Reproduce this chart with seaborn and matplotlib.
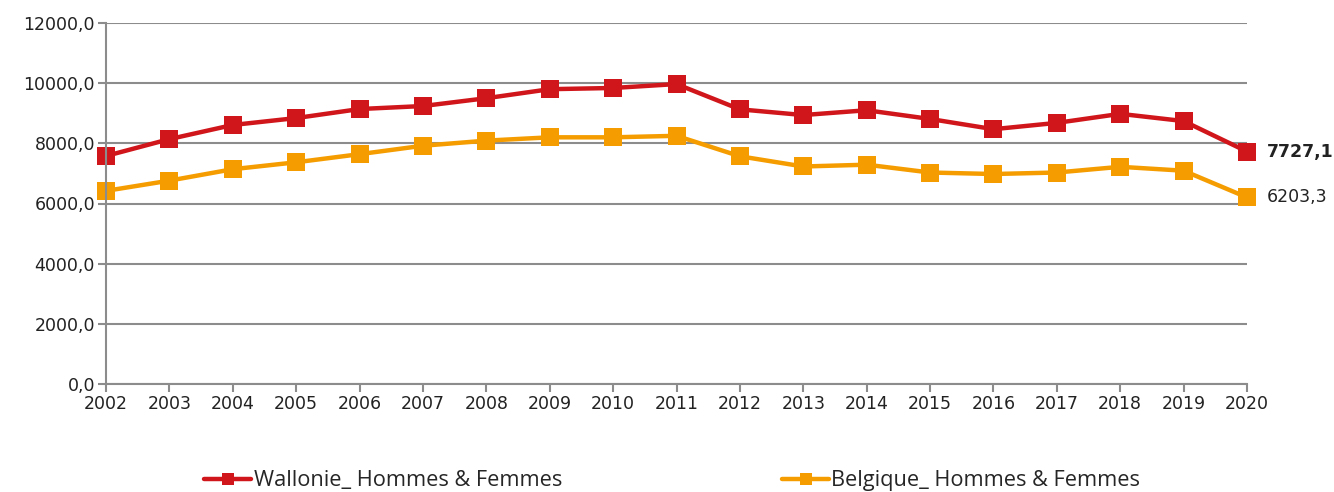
import matplotlib
matplotlib.use("Agg")
import matplotlib.pyplot as plt
import seaborn as sns
import pandas as pd
from matplotlib.ticker import FuncFormatter, FixedLocator
from matplotlib.lines import Line2D

years = list(range(2002, 2021))
wallonie = [7580, 8140, 8610, 8840, 9140, 9240, 9500, 9800, 9840, 9970,
            9130, 8940, 9100, 8810, 8470, 8680, 8980, 8740, 7727.1]
belgique = [6420, 6760, 7140, 7370, 7640, 7920, 8090, 8200, 8200, 8250,
            7570, 7230, 7290, 7030, 6980, 7030, 7220, 7090, 6203.3]
series_names = ["Wallonie_ Hommes & Femmes", "Belgique_ Hommes & Femmes"]
colors = ["#d0161b", "#f59d00"]
yticks = [0, 2000, 4000, 6000, 8000, 10000, 12000]

df = pd.DataFrame({
    "Année": years * 2,
    "Valeur": wallonie + belgique,
    "Série": [series_names[0]] * len(years) + [series_names[1]] * len(years),
})

sns.set_theme(style="white")
plt.rcParams['font.family'] = ['DejaVu Sans']

fig = plt.figure(figsize=(13.34, 4.92), dpi=100)
ax = fig.add_axes([106/1334, 1-384/492, (1247-106)/1334, (384-23)/492])

sns.lineplot(data=df, x="Année", y="Valeur", hue="Série", palette=colors,
             style="Série", markers=["s", "s"], dashes=False, linewidth=3.2,
             markersize=12.5, markeredgewidth=0, ax=ax, legend=False)

ax.set_xlim(2002, 2020)
ax.set_ylim(0, 12000)
ax.yaxis.set_major_locator(FixedLocator(yticks))
ax.xaxis.set_major_locator(FixedLocator(years))
ax.yaxis.set_major_formatter(FuncFormatter(lambda v, p: f"{v:.1f}".replace(".", ",")))
ax.set_xlabel("")
ax.set_ylabel("")
ax.grid(axis="y", color="#8c8c8c", linewidth=1.5)
ax.set_axisbelow(True)
for s in ["top", "right"]:
    ax.spines[s].set_visible(False)
for s in ["left", "bottom"]:
    ax.spines[s].set_color("#8c8c8c")
    ax.spines[s].set_linewidth(1.5)
ax.tick_params(axis="both", which="major", direction="out", length=6, width=1.5,
               color="#8c8c8c", labelsize=12.5, labelcolor="#222222", pad=2,
               left=True, bottom=True)
for l in ax.lines:
    l.set_clip_on(False)

ax.annotate("7727,1", xy=(2020, wallonie[-1]), xytext=(14, 0), textcoords="offset points",
            va="center", ha="left", fontsize=12.5, fontweight="bold", color="#222222")
ax.annotate("6203,3", xy=(2020, belgique[-1]), xytext=(14, 0), textcoords="offset points",
            va="center", ha="left", fontsize=12.5, color="#222222")

handles = [Line2D([0], [0], color=c, lw=3.2, marker="s", markersize=9, markeredgewidth=0)
           for c in colors]
fig.legend(handles, series_names, loc="center", bbox_to_anchor=(0.504, 0.023), ncol=2,
           frameon=False, columnspacing=10.1, handlelength=2.15, handletextpad=0.1,
           borderpad=0.2, prop={"family": ["Open Sans", "DejaVu Sans"], "size": 15.7})

fig.savefig("out.png", dpi=100)
